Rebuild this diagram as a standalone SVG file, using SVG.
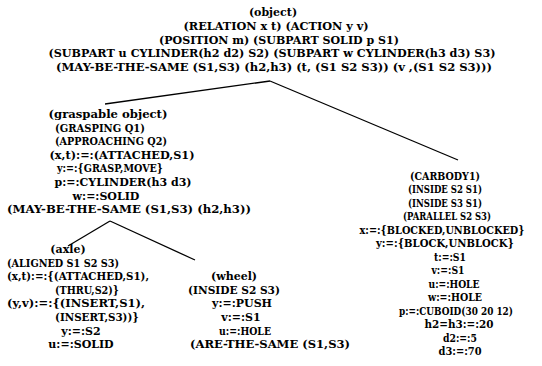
<svg xmlns="http://www.w3.org/2000/svg" width="542" height="366" viewBox="0 0 542 366">
<style>
text{font-family:"DejaVu Serif","Liberation Serif",serif;font-weight:bold;font-size:11px;fill:#000;text-anchor:middle}
.s{text-anchor:start}
#carbody text{font-size:10.5px}
line{stroke:#000;stroke-width:1.3}
</style>
<rect width="542" height="366" fill="#fff"/>
<g id="connectors">
<line x1="270" y1="81" x2="105" y2="104"/>
<line x1="270" y1="81" x2="458" y2="160"/>
<line x1="110" y1="221" x2="68" y2="246"/>
<line x1="110" y1="221" x2="195" y2="260"/>
</g>
<g id="object">
<text x="273" y="16">(object)</text>
<text x="276" y="29.5" textLength="185" lengthAdjust="spacingAndGlyphs">(RELATION x t) (ACTION y v)</text>
<text x="279" y="43.5" textLength="240" lengthAdjust="spacingAndGlyphs">(POSITION m) (SUBPART SOLID p S1)</text>
<text x="272" y="57" textLength="447" lengthAdjust="spacingAndGlyphs">(SUBPART u CYLINDER(h2 d2) S2) (SUBPART w CYLINDER(h3 d3) S3)</text>
<text x="274" y="70.5" textLength="436" lengthAdjust="spacingAndGlyphs">(MAY-BE-THE-SAME (S1,S3) (h2,h3) (t, (S1 S2 S3)) (v ,(S1 S2 S3)))</text>
</g>
<g id="graspable">
<text x="108" y="118" textLength="119" lengthAdjust="spacingAndGlyphs">(graspable object)</text>
<text x="100" y="131.6" textLength="90" lengthAdjust="spacingAndGlyphs">(GRASPING Q1)</text>
<text x="111" y="145.2" textLength="112" lengthAdjust="spacingAndGlyphs">(APPROACHING Q2)</text>
<text x="122" y="158.8" textLength="145" lengthAdjust="spacingAndGlyphs">(x,t):=:(ATTACHED,S1)</text>
<text x="110" y="172.4" textLength="106" lengthAdjust="spacingAndGlyphs">y:=:{GRASP,MOVE}</text>
<text x="123" y="186" textLength="137" lengthAdjust="spacingAndGlyphs">p:=:CYLINDER(h3 d3)</text>
<text x="106" y="199.6">w:=:SOLID</text>
<text class="s" x="7" y="213" textLength="244" lengthAdjust="spacingAndGlyphs">(MAY-BE-THE-SAME (S1,S3) (h2,h3))</text>
</g>
<g id="carbody">
<text x="445" y="179.5" textLength="70" lengthAdjust="spacingAndGlyphs">(CARBODY1)</text>
<text x="445" y="193" textLength="74" lengthAdjust="spacingAndGlyphs">(INSIDE S2 S1)</text>
<text x="445" y="206.5" textLength="74" lengthAdjust="spacingAndGlyphs">(INSIDE S3 S1)</text>
<text x="447" y="220" textLength="88" lengthAdjust="spacingAndGlyphs">(PARALLEL S2 S3)</text>
<text x="442" y="233.5" textLength="165" lengthAdjust="spacingAndGlyphs">x:=:{BLOCKED,UNBLOCKED}</text>
<text x="445" y="247" textLength="138" lengthAdjust="spacingAndGlyphs">y:=:{BLOCK,UNBLOCK}</text>
<text x="450" y="260.5" textLength="32" lengthAdjust="spacingAndGlyphs">t:=:S1</text>
<text x="448" y="274" textLength="33" lengthAdjust="spacingAndGlyphs">v:=:S1</text>
<text x="454" y="287.5" textLength="51" lengthAdjust="spacingAndGlyphs">u:=:HOLE</text>
<text x="455" y="301" textLength="54" lengthAdjust="spacingAndGlyphs">w:=:HOLE</text>
<text x="456" y="314.5" textLength="114" lengthAdjust="spacingAndGlyphs">p:=:CUBOID(30 20 12)</text>
<text x="459" y="328" textLength="69" lengthAdjust="spacingAndGlyphs">h2=h3:=:20</text>
<text x="460" y="341.5" textLength="34" lengthAdjust="spacingAndGlyphs">d2:=:5</text>
<text x="460" y="355" textLength="43" lengthAdjust="spacingAndGlyphs">d3:=:70</text>
</g>
<g id="axle">
<text x="68" y="253">(axle)</text>
<text class="s" x="7" y="266.6" textLength="112" lengthAdjust="spacingAndGlyphs">(ALIGNED S1 S2 S3)</text>
<text class="s" x="7" y="280.2" textLength="142" lengthAdjust="spacingAndGlyphs">(x,t):=:{(ATTACHED,S1),</text>
<text class="s" x="55" y="293.8" textLength="64" lengthAdjust="spacingAndGlyphs">(THRU,S2)}</text>
<text class="s" x="7" y="307.4" textLength="138" lengthAdjust="spacingAndGlyphs">(y,v):=:{(INSERT,S1),</text>
<text class="s" x="55" y="321" textLength="84" lengthAdjust="spacingAndGlyphs">(INSERT,S3))}</text>
<text x="81" y="334.6">y:=:S2</text>
<text x="81" y="348.2">u:=:SOLID</text>
</g>
<g id="wheel">
<text x="234" y="280.2">(wheel)</text>
<text x="234" y="293.8" textLength="92" lengthAdjust="spacingAndGlyphs">(INSIDE S2 S3)</text>
<text x="242" y="307.4">y:=:PUSH</text>
<text x="241" y="321">v:=:S1</text>
<text x="245" y="334.6" textLength="52" lengthAdjust="spacingAndGlyphs">u:=:HOLE</text>
<text class="s" x="190" y="348.2" textLength="160" lengthAdjust="spacingAndGlyphs">(ARE-THE-SAME (S1,S3)</text>
</g>
</svg>
